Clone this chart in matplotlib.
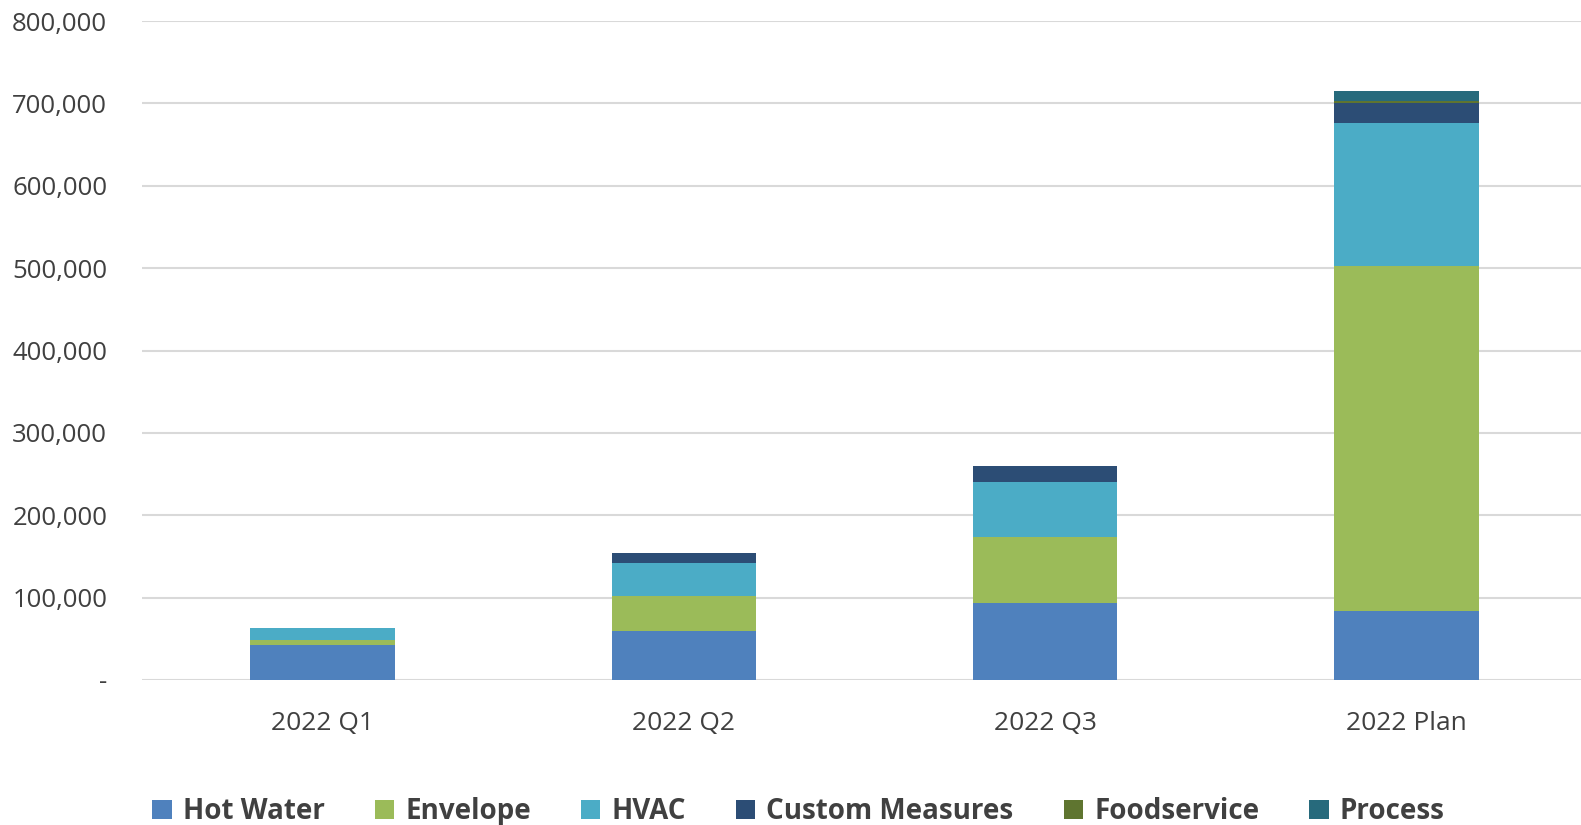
import matplotlib.pyplot as plt
from matplotlib.ticker import FuncFormatter

categories = ["2022 Q1", "2022 Q2", "2022 Q3", "2022 Plan"]
hot_water = [42500, 59500, 93500, 84000]
envelope = [6000, 42500, 80000, 418000]
hvac = [14500, 39500, 66500, 174000]
custom_measures = [0, 12500, 20000, 24000]
foodservice = [0, 0, 0, 3500]
process = [0, 0, 0, 11500]

series = [
	("Hot Water", hot_water, "#4F81BD"),
	("Envelope", envelope, "#9BBB59"),
	("HVAC", hvac, "#4BACC6"),
	("Custom Measures", custom_measures, "#2C4D75"),
	("Foodservice", foodservice, "#5F7530"),
	("Process", process, "#276A7C"),
]

plt.rcParams["font.family"] = ["Open Sans", "DejaVu Sans"]
text_color = "#404040"

fig = plt.figure(figsize=(15.81, 8.25), dpi=100)
ax = fig.add_axes([0.0898, 0.1758, 0.914, 0.7987])

x = range(len(categories))
bottom = [0] * len(categories)
for name, vals, color in series:
	ax.bar(x, vals, width=0.4, bottom=bottom, color=color, label=name, zorder=3)
	bottom = [b + v for b, v in zip(bottom, vals)]

ax.set_xlim(-0.5, 3.5)
ax.set_ylim(0, 800000)
ax.set_yticks(range(0, 800001, 100000))
ax.yaxis.set_major_formatter(FuncFormatter(lambda v, p: "-" if v == 0 else f"{int(v):,}"))
ax.set_xticks(list(x))
ax.set_xticklabels(categories)

ax.grid(axis="y", color="#D9D9D9", linewidth=1.5, zorder=0)
for s in ax.spines.values():
	s.set_visible(False)
ax.tick_params(axis="y", length=0, pad=25, labelsize=18.5, labelcolor=text_color)
ax.tick_params(axis="x", length=0, pad=22, labelsize=19, labelcolor=text_color)

leg = fig.legend(loc="center", bbox_to_anchor=(0.505, 0.016), ncol=6, frameon=False,
	prop={"size": 20, "weight": "bold"}, handlelength=0.7, handleheight=0.7,
	handletextpad=0.4, columnspacing=1.8)
for t in leg.get_texts():
	t.set_color(text_color)

fig.savefig("out.png", dpi=100)
